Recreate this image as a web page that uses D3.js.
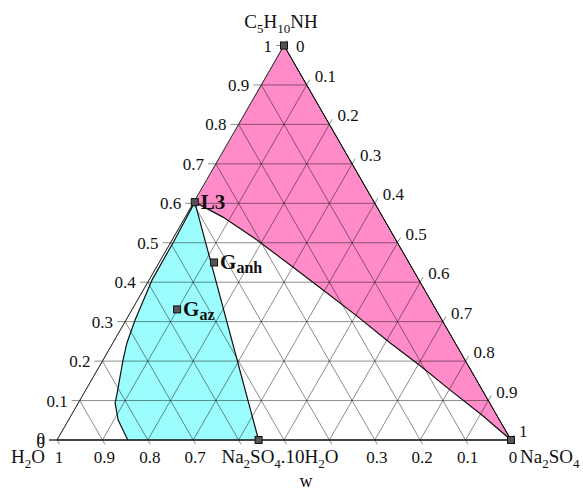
<!DOCTYPE html>
<html><head><meta charset="utf-8">
<script src="https://cdn.jsdelivr.net/npm/d3@7"></script>
<style>
body{margin:0;background:#fff}
svg{display:block}
text{font-family:"Liberation Serif","Times New Roman",serif;fill:#111}
</style>
</head><body>
<svg id="chart" width="583" height="492"></svg>
<script>
// ---- data ----
const gridFractions = [0,0.1,0.2,0.3,0.4,0.5,0.6,0.7,0.8,0.9,1];
const leftTickLabels = ["0","0.1","0.2","0.3","0.4","0.5","0.6","0.7","0.8","0.9","1"];   // C5H10NH fraction
const rightTickLabels = ["0","0.1","0.2","0.3","0.4","0.5","0.6","0.7","0.8","0.9","1"];  // Na2SO4 fraction
const bottomTickLabels = ["1","0.9","0.8","0.7","","","","0.3","0.2","0.1","0"];          // water fraction w
// compositions as [Na2SO4 fraction, C5H10NH fraction]
const L3 = [0.002, 0.603];
const decahydrate = [0.444, 0];
const pinkBoundary = [[0.002,0.603],[0.083,0.565],[0.187,0.507],[0.291,0.444],[0.396,0.380],
  [0.504,0.314],[0.611,0.246],[0.706,0.188],[0.802,0.127],[0.908,0.061],[1,0]];
const cyanLeftBoundary = [[0.002,0.603],[0.0055,0.504],[0.0065,0.406],[0.020,0.304],[0.031,0.246],
  [0.044,0.203],[0.073,0.119],[0.081,0.094],[0.109,0.051],[0.133,0.025],[0.156,0]];
const markerPoints = [[0,1],[1,0],[0.444,0],[0.002,0.603],[0.121,0.450],[0.099,0.331]];
const pointLabels = [
  {main:"L3", sub:"", at:[0.002,0.603]},
  {main:"G", sub:"anh", at:[0.121,0.450]},
  {main:"G", sub:"az", at:[0.099,0.331]}
];

// ---- geometry ----
const svg = d3.select("#chart");
const xs = d3.scaleLinear().domain([0,1]).range([57,511]);
const ys = d3.scaleLinear().domain([0,1]).range([440,45.5]);
const P = (s,c) => [xs(s + c/2), ys(c)];
const line = d3.line().x(d=>P(d[0],d[1])[0]).y(d=>P(d[0],d[1])[1]);

// ---- regions ----
const pinkPath = [[0,1]].concat(pinkBoundary.slice().reverse());
svg.append("path").attr("d", line(pinkPath) + "Z")
  .attr("fill","#ff8cc8").attr("stroke","none");
svg.append("path").attr("d", line([decahydrate].concat(cyanLeftBoundary)) + "Z")
  .attr("fill","#9bfdfd").attr("stroke","none");

// ---- grid ----
const grid = svg.append("g").attr("stroke","#000").attr("stroke-opacity",0.45).attr("stroke-width",1).attr("fill","none");
const ext = 8, extR = 6, extB = 5;
gridFractions.forEach(k => {
  // constant C5H10NH (horizontal), tick to the left
  const a = P(0,k), b = P(1-k,k);
  grid.append("line").attr("x1",a[0]-ext).attr("y1",a[1]).attr("x2",b[0]).attr("y2",b[1]);
  // constant Na2SO4 (parallel to left edge), tick beyond right edge
  const c1 = P(k,0), d1 = P(k,1-k);
  grid.append("line").attr("x1",c1[0]).attr("y1",c1[1])
    .attr("x2",d1[0]+extR*0.5).attr("y2",d1[1]-extR*0.866);
  // constant water (parallel to right edge), tick below bottom edge
  const e = P(0,1-k), f = P(1-k,0);
  grid.append("line").attr("x1",e[0]).attr("y1",e[1])
    .attr("x2",f[0]+extB*0.5).attr("y2",f[1]+extB*0.866);
});

// ---- triangle edges ----
svg.append("path").attr("d", line([[0,0],[1,0],[0,1]]) + "Z")
  .attr("fill","none").attr("stroke","#333").attr("stroke-width",1);
svg.append("line").attr("x1",P(0,0)[0]-ext).attr("y1",P(0,0)[1]).attr("x2",P(1,0)[0]).attr("y2",P(1,0)[1])
  .attr("stroke","#111").attr("stroke-width",1.2);

// ---- region boundaries ----
svg.append("path").attr("d", line(pinkBoundary)).attr("fill","none").attr("stroke","#111").attr("stroke-width",1.2);
svg.append("path").attr("d", line(cyanLeftBoundary.slice().reverse().concat([decahydrate])))
  .attr("fill","none").attr("stroke","#111").attr("stroke-width",1.2);
svg.append("path").attr("d", line([[0,1],[1,0]])).attr("fill","none").attr("stroke","#111").attr("stroke-width",1);

// ---- markers ----
svg.selectAll("rect.m").data(markerPoints).join("rect").attr("class","m")
  .attr("x",d=>P(d[0],d[1])[0]-3.5).attr("y",d=>P(d[0],d[1])[1]-3.5)
  .attr("width",7).attr("height",7).attr("fill","#555").attr("stroke","#111").attr("stroke-width",1);

// ---- tick labels ----
const tl = svg.append("g").attr("font-size",17);
leftTickLabels.forEach((t,i) => {
  const p = P(0,gridFractions[i]);
  tl.append("text").attr("x",p[0]-12).attr("y",p[1]+(i===0?4:6)).attr("text-anchor","end").text(t);
});
// second "0" (bottom axis start) drawn over the left-axis "0"
tl.append("text").attr("x",P(0,0)[0]-12).attr("y",P(0,0)[1]+8).attr("text-anchor","end").text(leftTickLabels[0]);
rightTickLabels.forEach((t,i) => {
  const k = gridFractions[i];
  const p = P(k,1-k);
  const dx = i===0 ? 12 : 8, dy = i===0 ? 6 : -3;
  tl.append("text").attr("x",p[0]+dx).attr("y",p[1]+dy).attr("text-anchor","start").text(t);
});
bottomTickLabels.forEach((t,i) => {
  if(!t) return;
  const p = P(gridFractions[i],0);
  tl.append("text").attr("x",p[0]+2).attr("y",463).attr("text-anchor","middle").text(t);
});

// ---- chemical labels ----
function chemParts(str){ // e.g. "Na_2SO_4"
  const out=[]; let prevSub=false;
  str.split(/(_\d+)/).filter(s=>s).forEach(s=>{
    if(s[0]==="_"){ out.push([s.slice(1),true,5]); prevSub=true; }
    else { out.push([s,false,prevSub?-5:0]); prevSub=false; }
  });
  return out;
}
function chem(parent, str, x, y, anchor, size, subSize){
  const t = parent.append("text").attr("x",x).attr("y",y).attr("text-anchor",anchor).attr("font-size",size);
  chemParts(str).forEach(p => {
    const sp = t.append("tspan").attr("dy",p[2]).text(p[0]);
    if(p[1]) sp.attr("font-size",subSize);
  });
  return t;
}
chem(svg, "C_5H_10NH", 281, 28, "middle", 19, 13);
chem(svg, "H_2O", 11, 463, "start", 19, 13);
chem(svg, "Na_2SO_4", 520, 463, "start", 19, 13);
chem(svg, "Na_2SO_4.10H_2O", 280, 463, "middle", 19, 13);
svg.append("text").attr("x",306).attr("y",487).attr("text-anchor","middle").attr("font-size",18).text("w");

// ---- point labels ----
pointLabels.forEach(d => {
  const p = P(d.at[0],d.at[1]);
  const t = svg.append("text").attr("x",p[0]+6).attr("y",p[1]+7).attr("font-size",21).attr("font-weight","bold");
  t.append("tspan").text(d.main);
  if(d.sub) t.append("tspan").attr("font-size",16).attr("dy",4).text(d.sub);
});
</script>
</body></html>
